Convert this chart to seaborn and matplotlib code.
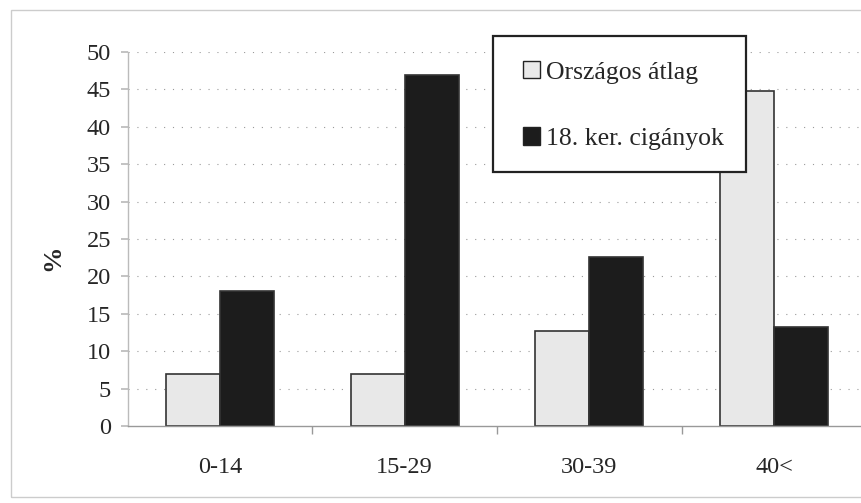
import matplotlib
matplotlib.use("Agg")
import matplotlib.pyplot as plt
import seaborn as sns
import pandas as pd
from matplotlib.patches import Rectangle

categories = ["0-14", "15-29", "30-39", "40<"]
series_names = ["Országos átlag", "18. ker. cigányok"]
orszagos = [7.0, 7.0, 12.7, 44.8]
cigany = [18.0, 46.9, 22.6, 13.3]
yticks = [0, 5, 10, 15, 20, 25, 30, 35, 40, 45, 50]

df = pd.DataFrame({
    "cat": categories * 2,
    "val": orszagos + cigany,
    "series": [series_names[0]] * 4 + [series_names[1]] * 4,
})

sns.set_theme(style="white")
plt.rcParams["font.family"] = ["Liberation Serif", "DejaVu Serif"]

fig = plt.figure(figsize=(8.61, 5.03), dpi=100)
ax = fig.add_axes([0.1483, 0.153, 0.858, 0.7436])

palette = {series_names[0]: "#e8e8e8", series_names[1]: "#1c1c1c"}
sns.barplot(data=df, x="cat", y="val", hue="series", order=categories,
            hue_order=series_names, palette=palette, width=0.585,
            edgecolor="#333333", linewidth=1.2, saturation=1, ax=ax,
            legend=True)

ax.set_ylim(0, 50)
ax.set_xlim(-0.5, 3.5)
ax.set_yticks(yticks)
ax.set_yticklabels([str(v) for v in yticks], fontsize=17.5)
ax.set_xticks(range(len(categories)))
ax.set_xticklabels(categories, fontsize=17.5)
ax.set_xlabel("")
ax.set_ylabel("%", fontsize=19, fontweight="bold")
ax.yaxis.set_label_coords(-0.086, 0.45)

for v in yticks[1:]:
    ax.axhline(v, color="#9a9a9a", linewidth=0.8, linestyle=(0, (1, 7)), zorder=0)

for s in ["top", "right"]:
    ax.spines[s].set_visible(False)
ax.spines["left"].set_color("#bbbbbb")
ax.spines["bottom"].set_color("#999999")
ax.spines["left"].set_linewidth(1.0)
ax.spines["bottom"].set_linewidth(1.0)
ax.tick_params(axis="y", which="both", left=True, length=5, color="#bbbbbb", pad=7)
ax.tick_params(axis="x", which="major", bottom=False, pad=16)
ax.set_xticks([0.5, 1.5, 2.5], minor=True)
ax.tick_params(axis="x", which="minor", bottom=True, length=6, color="#999999")

# legend frame drawn separately to match the reference box size
fig.patches.append(Rectangle((493 / 861, 1 - 172 / 503), (746 - 493) / 861, (172 - 36) / 503,
                             transform=fig.transFigure, facecolor="white",
                             edgecolor="#222222", linewidth=1.6, zorder=5))
leg = ax.legend(loc="upper left", bbox_to_anchor=(518 / 861, 1 - 56 / 503),
                bbox_transform=fig.transFigure, fontsize=18.5, frameon=False,
                handlelength=0.65, handleheight=0.65, handletextpad=0.25,
                labelspacing=1.7, borderpad=0.2, borderaxespad=0)
leg.set_zorder(10)
fig.legends.append(leg)
ax.get_legend().remove()
for h in leg.legend_handles:
    h.set_edgecolor("#222222")
    h.set_linewidth(1.0)

fig.patches.append(Rectangle((11 / 861, 1 - 497 / 503), 1.2, (497 - 10) / 503,
                             transform=fig.transFigure, fill=False,
                             edgecolor="#cccccc", linewidth=1.0))

fig.savefig("out.png", dpi=100)
